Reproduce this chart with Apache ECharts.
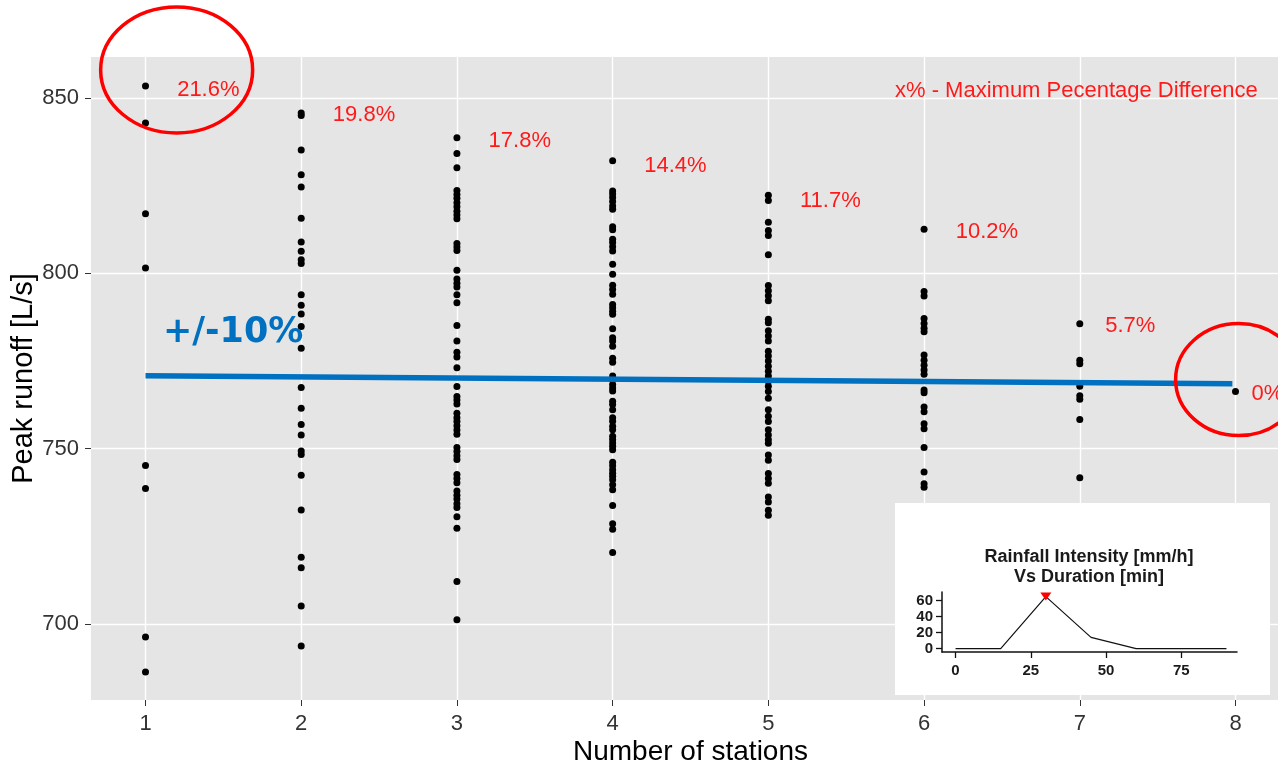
<!DOCTYPE html>
<html><head><meta charset="utf-8">
<script src="https://cdn.jsdelivr.net/npm/echarts@6/dist/echarts.min.js"></script>
<style>html,body{margin:0;padding:0;background:#fff}#c{width:1278px;height:771px}</style>
</head><body><div id="c"></div>
<script>
// ---------- data ----------
const stations = [1, 2, 3, 4, 5, 6, 7, 8];
const runoff1 = [853.4, 842.9, 817.0, 801.5, 745.2, 738.6, 696.3, 686.3];
const runoff2 = [845.7, 845.0, 835.2, 828.1, 824.6, 815.7, 808.9, 806.3, 803.9, 802.8, 793.9, 790.9, 788.4, 784.8, 778.6, 767.4, 761.5, 756.9, 753.9, 749.3, 748.3, 742.4, 732.5, 719.0, 716.0, 705.1, 693.7];
const runoff3 = [838.7, 834.2, 830.1, 823.6, 822.5, 821.4, 820.1, 819.0, 817.7, 816.6, 815.6, 808.5, 807.5, 806.5, 800.9, 798.4, 797.2, 796.1, 793.9, 791.6, 785.1, 780.7, 777.5, 776.1, 773.1, 767.7, 764.9, 763.9, 762.7, 760.1, 758.8, 757.7, 756.5, 755.3, 754.1, 750.3, 749.2, 748.0, 746.9, 742.6, 741.5, 740.3, 737.9, 736.7, 735.6, 734.3, 733.2, 730.6, 727.3, 712.1, 701.2];
const runoff4 = [832.1, 823.5, 822.6, 821.6, 820.5, 819.2, 818.3, 813.3, 812.4, 809.7, 808.8, 807.6, 806.4, 802.6, 799.7, 796.6, 795.4, 794.0, 791.1, 790.2, 789.2, 788.3, 784.2, 781.6, 780.7, 779.2, 775.8, 774.6, 770.7, 769.7, 768.3, 767.3, 766.4, 763.5, 762.6, 761.1, 758.8, 757.8, 756.4, 755.4, 753.5, 752.6, 751.6, 750.7, 749.7, 746.1, 745.1, 744.0, 743.0, 742.1, 741.1, 739.7, 738.3, 733.8, 728.6, 727.0, 720.4];
const runoff5 = [822.3, 820.8, 814.6, 812.2, 810.8, 805.3, 796.5, 795.0, 793.6, 792.2, 786.9, 785.9, 783.6, 782.1, 780.7, 777.8, 776.4, 775.0, 773.5, 772.1, 770.7, 769.2, 767.8, 766.3, 764.4, 761.1, 759.2, 757.7, 755.4, 753.9, 752.5, 751.5, 748.2, 746.7, 742.9, 741.5, 740.1, 736.2, 734.8, 732.4, 731.0];
const runoff6 = [812.6, 794.8, 793.5, 787.1, 785.7, 784.3, 783.3, 776.7, 775.2, 773.8, 772.4, 771.2, 766.7, 765.9, 761.9, 760.5, 757.1, 755.7, 750.3, 743.3, 740.0, 739.0];
const runoff7 = [785.6, 775.2, 774.2, 767.8, 765.1, 764.1, 758.3, 741.7];
const runoff8 = [766.3];
const runoffByStations = [runoff1, runoff2, runoff3, runoff4, runoff5, runoff6, runoff7, runoff8];

const pctLabels = ['21.6%', '19.8%', '17.8%', '14.4%', '11.7%', '10.2%', '5.7%', '0%'];
const pctAnchorX = [1.2, 2.2, 3.2, 4.2, 5.2, 6.2, 7.16, 8.1];
const pctAnchorY = [852.3, 845.2, 837.7, 830.6, 820.7, 811.8, 785.0, 765.7];

const refLineX = [1, 7.98];
const refLineY = [770.8, 768.5];
const bandLabel = '+/-10%';
const bandLabelAnchor = [1.109, 783.0];

const xTicks = [1, 2, 3, 4, 5, 6, 7, 8];
const yTicks = [700, 750, 800, 850];

// inset: rainfall hyetograph
const rainTime = [0, 15, 30, 45, 60, 90];
const rainIntensity = [0, 0, 65, 14, 0, 0];
const rainPeak = [30, 65];
const insetXTicks = [0, 25, 50, 75];
const insetYTicks = [0, 20, 40, 60];

// ---------- chart ----------
const SANS = '"Liberation Sans", Arial, sans-serif';
const chart = echarts.init(document.getElementById('c'), null, {renderer: 'canvas'});

const pts = [];
runoffByStations.forEach((arr, i) => arr.forEach(v => pts.push([stations[i], v])));

const pctData = pctLabels.map((t, i) => ({value: [pctAnchorX[i], pctAnchorY[i]], name: t}));

const option = {
  animation: false,
  backgroundColor: '#ffffff',
  grid: [
    {left: 91, top: 57, width: 1199, height: 643, show: true, backgroundColor: '#E5E5E5', borderWidth: 0,
     containLabel: false, outerBoundsMode: 'none'},
    {left: 942, top: 592, width: 295, height: 60, show: false, containLabel: false, outerBoundsMode: 'none'}
  ],
  xAxis: [
    {
      type: 'value', gridIndex: 0, min: 0.65, max: 8.35,
      axisLine: {show: false},
      axisTick: {show: true, length: 6, lineStyle: {color: '#333', width: 1}, customValues: xTicks},
      axisLabel: {customValues: xTicks, color: '#333', fontSize: 22, fontFamily: SANS, margin: 13},
      splitLine: {show: true, lineStyle: {color: '#ffffff', width: 1.4}},
      name: 'Number of stations', nameLocation: 'middle', nameGap: 38, nameMoveOverlap: false,
      nameTextStyle: {fontSize: 28, fontFamily: SANS, color: '#000'}
    },
    {
      type: 'value', gridIndex: 1, min: -4.5, max: 93.5, z: 20,
      axisLine: {show: true, onZero: false, lineStyle: {color: '#111', width: 1.5}},
      axisTick: {show: true, length: 6, lineStyle: {color: '#111', width: 1.3}, customValues: insetXTicks},
      axisLabel: {customValues: insetXTicks, color: '#1a1a1a', fontSize: 15, fontWeight: 'bold', fontFamily: SANS, margin: 11},
      splitLine: {show: false}
    }
  ],
  yAxis: [
    {
      type: 'value', gridIndex: 0, min: 678.3, max: 861.7,
      axisLine: {show: false},
      axisTick: {show: true, length: 6, lineStyle: {color: '#333', width: 1}, customValues: yTicks},
      axisLabel: {customValues: yTicks, color: '#333', fontSize: 22, fontFamily: SANS, margin: 12},
      splitLine: {show: true, lineStyle: {color: '#ffffff', width: 1.4}},
      name: 'Peak runoff [L/s]', nameLocation: 'middle', nameGap: 53, nameRotate: 90, nameMoveOverlap: false,
      nameTextStyle: {fontSize: 29, fontFamily: SANS, color: '#000'}
    },
    {
      type: 'value', gridIndex: 1, min: -4.25, max: 70.75, z: 20,
      axisLine: {show: true, onZero: false, lineStyle: {color: '#111', width: 1.5}},
      axisTick: {show: true, length: 6, lineStyle: {color: '#111', width: 1.3}, customValues: insetYTicks},
      axisLabel: {customValues: insetYTicks, color: '#1a1a1a', fontSize: 15, fontWeight: 'bold', fontFamily: SANS, margin: 9},
      splitLine: {show: false}
    }
  ],
  series: [
    {
      type: 'scatter', xAxisIndex: 0, yAxisIndex: 0, z: 2,
      symbol: 'circle', symbolSize: 7,
      itemStyle: {color: '#000', opacity: 1},
      data: pts
    },
    {
      type: 'line', xAxisIndex: 0, yAxisIndex: 0, z: 3,
      showSymbol: false, symbol: 'none',
      lineStyle: {color: '#0070C0', width: 5.5, opacity: 1},
      data: refLineX.map((x, i) => [x, refLineY[i]])
    },
    {
      type: 'scatter', xAxisIndex: 0, yAxisIndex: 0, z: 4,
      symbolSize: 1, itemStyle: {color: 'rgba(0,0,0,0)', opacity: 1},
      label: {show: true, position: 'right', distance: 0, formatter: p => p.name, opacity: 1,
              color: '#FF1A1A', fontSize: 22, fontFamily: SANS},
      data: pctData
    },
    {
      type: 'scatter', xAxisIndex: 0, yAxisIndex: 0, z: 4,
      symbolSize: 1, itemStyle: {color: 'rgba(0,0,0,0)', opacity: 1},
      label: {show: true, position: 'right', distance: 0, formatter: p => p.name, opacity: 1,
              color: '#0070C0', fontSize: 35, fontWeight: 'bold', fontFamily: '"DejaVu Sans", sans-serif'},
      data: [{value: bandLabelAnchor, name: bandLabel}]
    },
    {
      type: 'line', xAxisIndex: 1, yAxisIndex: 1, z: 20,
      showSymbol: false, symbol: 'none',
      lineStyle: {color: '#111', width: 1.2, opacity: 1},
      data: rainTime.map((t, i) => [t, rainIntensity[i]])
    },
    {
      type: 'scatter', xAxisIndex: 1, yAxisIndex: 1, z: 21,
      symbol: 'triangle', symbolRotate: 180, symbolSize: [11, 8],
      itemStyle: {color: '#FF0000', opacity: 1},
      data: [rainPeak]
    }
  ],
  graphic: [
    {type: 'rect', z: 10, shape: {x: 895, y: 503, width: 375, height: 192}, style: {fill: '#ffffff'}},
    {type: 'text', z: 20, x: 1089, y: 557, style: {text: 'Rainfall Intensity [mm/h]', fill: '#1a1a1a',
      font: 'bold 18px "Liberation Sans", Arial, sans-serif', textAlign: 'center', textVerticalAlign: 'middle'}},
    {type: 'text', z: 20, x: 1089, y: 577, style: {text: 'Vs Duration [min]', fill: '#1a1a1a',
      font: 'bold 18px "Liberation Sans", Arial, sans-serif', textAlign: 'center', textVerticalAlign: 'middle'}},
    {type: 'text', z: 20, x: 895, y: 91, style: {text: 'x% - Maximum Pecentage Difference', fill: '#FF1A1A',
      font: '22px "Liberation Sans", Arial, sans-serif', textAlign: 'left', textVerticalAlign: 'middle'}}
  ]
};
chart.setOption(option);

// red highlight ellipses, anchored to data positions
const e1 = chart.convertToPixel({gridIndex: 0}, [1.2, 858]);
const e2 = chart.convertToPixel({gridIndex: 0}, [8.02, 769.7]);
chart.setOption({
  graphic: option.graphic.concat([
    {type: 'ellipse', z: 30, shape: {cx: e1[0], cy: e1[1], rx: 76, ry: 63}, style: {fill: 'none', stroke: '#FF0000', lineWidth: 3.5}},
    {type: 'ellipse', z: 30, shape: {cx: e2[0], cy: e2[1], rx: 63, ry: 56}, style: {fill: 'none', stroke: '#FF0000', lineWidth: 3.5}}
  ])
});
</script>
</body></html>
